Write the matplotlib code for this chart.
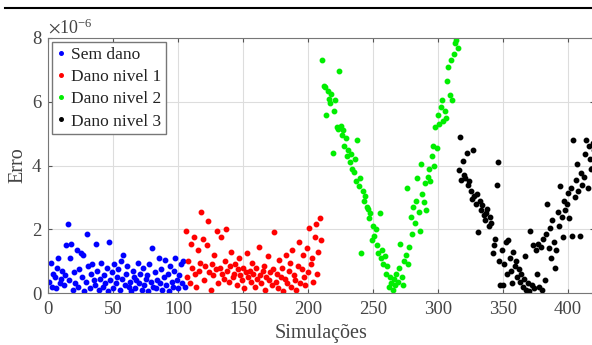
import matplotlib
matplotlib.use("Agg")
import matplotlib.pyplot as plt
import numpy as np
from matplotlib.lines import Line2D
from matplotlib.ticker import ScalarFormatter

plt.rcParams['font.family'] = ['Liberation Serif', 'DejaVu Serif']
plt.rcParams['mathtext.fontset'] = 'stix'

labels = ["Sem dano", "Dano nivel 1", "Dano nivel 2", "Dano nivel 3"]
colors = ["#0000ff", "#ff0000", "#00ee00", "#000000"]

blue = [0.35,0.95,0.2,0.6,0.5,0.15,0.8,1.1,0.3,0.45,
        0.7,0.25,0.55,1.5,2.15,0.4,1.1,1.55,0.1,0.65,
        0.3,1.35,0.2,0.75,1.25,0.5,1.2,0.05,0.35,1.85,
        0.85,0.15,0.6,0.9,0.4,0.25,1.55,0.7,0.1,0.45,
        0.95,0.2,0.55,0.3,0.8,0.05,1.6,0.4,0.65,0.15,
        0.9,0.3,0.5,0.75,0.1,1.0,0.45,1.2,0.25,0.6,
        0.85,0.2,0.35,0.05,0.7,0.5,0.15,0.4,0.95,0.3,
        0.6,0.1,0.8,0.25,0.45,0.55,0.05,0.9,0.35,1.4,
        0.2,0.65,0.15,0.4,1.1,0.3,0.75,0.1,0.5,1.05,
        0.25,0.6,0.05,0.85,0.35,0.2,0.7,1.1,0.4,0.15,
        0.55,0.9,0.3,1.0,0.2]

red = [1.95,0.5,1.0,0.3,1.55,0.8,1.75,0.6,0.2,1.35,
       0.7,0.95,2.55,1.7,0.4,0.85,1.5,2.25,0.65,0.1,
       0.9,0.55,1.2,0.75,1.95,0.3,0.8,1.75,0.6,0.45,
       1.0,2.0,0.7,0.35,0.85,1.3,0.5,0.6,0.9,0.25,
       0.75,1.1,0.55,0.4,0.8,0.15,0.65,1.25,0.5,0.7,
       0.35,0.95,0.6,0.2,0.8,0.45,1.45,0.55,0.3,0.7,
       0.85,0.1,0.5,1.15,0.4,0.65,0.25,0.75,1.9,0.35,
       0.6,0.15,1.05,0.5,0.8,0.05,0.45,1.2,0.3,0.7,
       0.95,0.2,1.35,0.55,0.4,0.1,0.85,1.6,0.3,0.75,
       1.2,0.5,0.25,1.4,0.65,2.05,0.9,1.1,0.35,1.75,
       2.15,0.6,1.3,2.35,1.65]

green = [7.3,6.5,6.45,5.6,6.35,6.1,5.95,6.25,4.4,5.7,
         6.05,5.2,5.15,6.95,5.25,4.95,5.1,4.6,4.85,4.3,
         4.5,4.1,4.35,3.9,3.8,4.2,3.5,4.8,3.35,3.6,
         1.25,3.2,2.9,3.05,2.7,2.65,2.35,2.5,1.65,2.1,
         1.8,2.0,1.5,1.25,2.5,1.1,1.35,0.9,1.15,0.6,
         0.85,0.2,0.5,
         0.3,0.1,0.45,0.25,0.6,0.35,0.8,1.55,0.5,0.25,
         1.0,1.2,3.3,0.9,1.45,2.4,1.85,2.7,2.2,2.9,
         3.6,2.55,1.95,4.05,3.1,2.85,3.45,2.6,3.65,3.9,
         3.5,4.3,4.6,4.0,5.2,4.55,5.6,5.3,5.85,6.05,
         5.4,5.7,5.5,6.65,7.1,6.2,7.3,6.05,7.5,7.85,7.95,7.7]

black = [3.85,4.9,3.55,4.15,3.7,3.6,4.4,3.4,3.5,3.2,
         2.95,4.5,3.05,2.8,3.1,1.9,2.9,2.6,2.75,2.45,
         2.3,2.5,2.65,2.1,2.4,2.2,1.25,1.5,1.7,3.4,
         4.1,1.0,0.25,1.35,0.25,0.9,1.6,0.6,1.65,1.1,
         0.7,0.3,1.3,0.85,1.0,0.5,0.75,0.35,0.6,0.2,
         0.45,1.15,0.1,0.3,0.05,
         1.95,0.25,1.5,0.15,1.35,0.6,1.55,0.2,1.45,0.1,
         1.7,0.4,1.85,2.8,1.4,2.05,1.1,2.3,1.6,0.8,
         1.35,2.55,2.1,3.35,2.4,1.75,2.9,2.6,2.8,3.15,
         2.35,3.3,1.8,4.8,3.0,3.55,4.05,3.2,1.8,3.75,
         3.4,3.65,4.35,4.8,3.3,4.6,4.2,3.9,4.7,4.5]

series = [blue, red, green, black]

fig = plt.figure(figsize=(5.92, 3.45), dpi=100)
ax = fig.add_axes([48/592, 52/345, 546/592, 255/345])

start = 1
for vals, lab, col in zip(series, labels, colors):
    x = np.arange(start, start + len(vals))
    y = np.array(vals) * 1e-6
    ax.plot(x, y, 'o', color=col, ms=3.2, mec=col, label=lab, linestyle='none')
    start += len(vals)

ax.set_xlim(0, 420)
ax.set_ylim(0, 8e-6)
ax.set_xticks(np.arange(0, 401, 50))
ax.set_yticks(np.arange(0, 8.1e-6, 2e-6))
fmt = ScalarFormatter(useMathText=True)
fmt.set_powerlimits((-3, 3))
ax.yaxis.set_major_formatter(fmt)
ax.yaxis.get_offset_text().set_fontsize(13)
ax.yaxis.get_offset_text().set_color('#444444')
ax.grid(True, color='#dddddd', lw=0.8)
ax.set_axisbelow(True)
ax.tick_params(direction='in', top=True, right=True, labelsize=13.5, length=3,
               color='#555555', labelcolor='#444444', pad=4)
ax.tick_params(axis='x', pad=6)
for s in ax.spines.values():
    s.set_color('#777777')
    s.set_linewidth(0.8)
ax.set_xlabel("Simulações", fontsize=14.5, labelpad=4, color='#444444')
ax.set_ylabel("Erro", fontsize=14.5, labelpad=3, color='#444444')

leg = ax.legend(loc='upper left', fontsize=12.5, handlelength=0.5, handletextpad=0.35,
                borderaxespad=0.25, borderpad=0.25, labelspacing=0.35, fancybox=False,
                edgecolor='#777777', framealpha=1, markerscale=0.8)
for t in leg.get_texts():
    t.set_color('#222222')

fig.add_artist(Line2D([5/592, 1.0], [1 - 8/345, 1 - 8/345], color='black', lw=1.5))

fig.savefig("out.png", dpi=100)
